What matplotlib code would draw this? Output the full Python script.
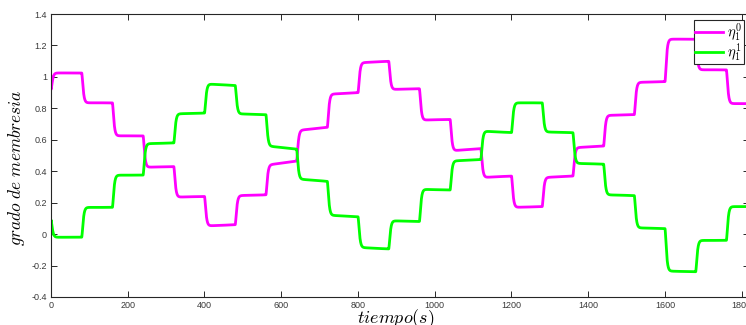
import numpy as np
import matplotlib
matplotlib.use("Agg")
import matplotlib.pyplot as plt

# Switching instants (s) of the membership levels
step_times = [0, 80, 160, 240, 320, 400, 480, 560, 640, 720, 800, 880,
              960, 1040, 1120, 1200, 1280, 1360, 1440, 1520, 1600, 1680, 1760]
t_end = 1820

# eta_1^0 : level at the start and at the end of each interval
eta0_start = [1.025, 0.835, 0.625, 0.425, 0.235, 0.052, 0.245, 0.44, 0.66, 0.89, 1.09, 0.92,
              0.725, 0.53, 0.36, 0.17, 0.36, 0.55, 0.755, 0.965, 1.24, 1.045, 0.83]
eta0_end = [1.025, 0.835, 0.625, 0.43, 0.24, 0.06, 0.25, 0.465, 0.68, 0.90, 1.10, 0.925,
            0.73, 0.545, 0.37, 0.175, 0.37, 0.56, 0.76, 0.97, 1.24, 1.045, 0.83]
eta0_initial = [1.0, 0.92]

# eta_1^1 : level at the start and at the end of each interval
eta1_start = [-0.02, 0.17, 0.375, 0.575, 0.765, 0.955, 0.765, 0.56, 0.35, 0.12, -0.085, 0.085,
              0.285, 0.465, 0.655, 0.835, 0.65, 0.45, 0.25, 0.04, -0.235, -0.04, 0.175]
eta1_end = [-0.02, 0.17, 0.375, 0.58, 0.77, 0.945, 0.76, 0.54, 0.335, 0.11, -0.095, 0.08,
            0.28, 0.475, 0.645, 0.835, 0.645, 0.445, 0.245, 0.035, -0.24, -0.04, 0.175]
eta1_initial = [0.0, 0.09]

x_ticks = [0, 200, 400, 600, 800, 1000, 1200, 1400, 1600, 1800]
y_ticks = [-0.4, -0.2, 0, 0.2, 0.4, 0.6, 0.8, 1, 1.2, 1.4]


def smooth_response(starts, ends, initial, dt=0.05, tau=2.2):
    """Second-order lag response to the piecewise level reference."""
    t = np.arange(0, t_end + dt, dt)
    edges = list(step_times) + [t_end]
    ref = np.empty_like(t)
    for i in range(len(step_times)):
        m = (t >= edges[i]) & (t <= edges[i + 1])
        frac = (t[m] - edges[i]) / (edges[i + 1] - edges[i])
        ref[m] = starts[i] + (ends[i] - starts[i]) * frac
    y = np.empty_like(t)
    x1 = x2 = initial[1]
    a = dt / tau
    for k in range(len(t)):
        x1 += a * (ref[k] - x1)
        x2 += a * (x1 - x2)
        y[k] = x2
    return np.concatenate([[0.0], t]), np.concatenate([[initial[0]], y])


tm, y0 = smooth_response(eta0_start, eta0_end, eta0_initial)
_, y1 = smooth_response(eta1_start, eta1_end, eta1_initial)

plt.rcParams["mathtext.fontset"] = "cm"
W, H = 746, 325
fig = plt.figure(figsize=(W / 100, H / 100), dpi=100)
ax = fig.add_axes([51 / W, 28 / H, 698.4 / W, 283 / H])

ax.plot(tm, y0, color="#ff00ff", lw=2.0, label=r"$\eta_1^0$")
ax.plot(tm, y1, color="#00ff00", lw=2.0, label=r"$\eta_1^1$")

ax.set_xlim(0, t_end)
ax.set_ylim(-0.4, 1.4)
ax.set_xticks(x_ticks)
ax.set_xticklabels([str(v) for v in x_ticks])
ax.set_yticks(y_ticks)
ax.set_yticklabels(["-0.4", "-0.2", "0", "0.2", "0.4", "0.6", "0.8", "1", "1.2", "1.4"])

for s in ax.spines.values():
    s.set_color("#262626")
    s.set_linewidth(0.8)
ax.tick_params(direction="in", length=4.5, width=0.7, color="#262626",
               top=True, right=True, labelsize=6.5, labelcolor="#3a3a3a", pad=3)
for lab in ax.get_xticklabels() + ax.get_yticklabels():
    lab.set_family("Liberation Sans")

ax.set_xlabel(r"$tiempo(s)$", fontsize=13)
ax.xaxis.set_label_coords((396 - 51) / 698.4, -0.038, transform=ax.transAxes)
ax.xaxis.label.set_va("top")
ax.set_ylabel(r"$grado\ de\ membresia$", fontsize=12.5)
ax.yaxis.set_label_coords(-0.034, (297 - 168) / 283, transform=ax.transAxes)

leg = ax.legend(loc="upper right", fontsize=10.5, fancybox=False, framealpha=1,
                edgecolor="#262626", handlelength=1.9, handletextpad=0.3,
                borderpad=0.1, labelspacing=-0.1, borderaxespad=0.4)
leg.get_frame().set_linewidth(0.8)

fig.savefig("out.png", dpi=100)
